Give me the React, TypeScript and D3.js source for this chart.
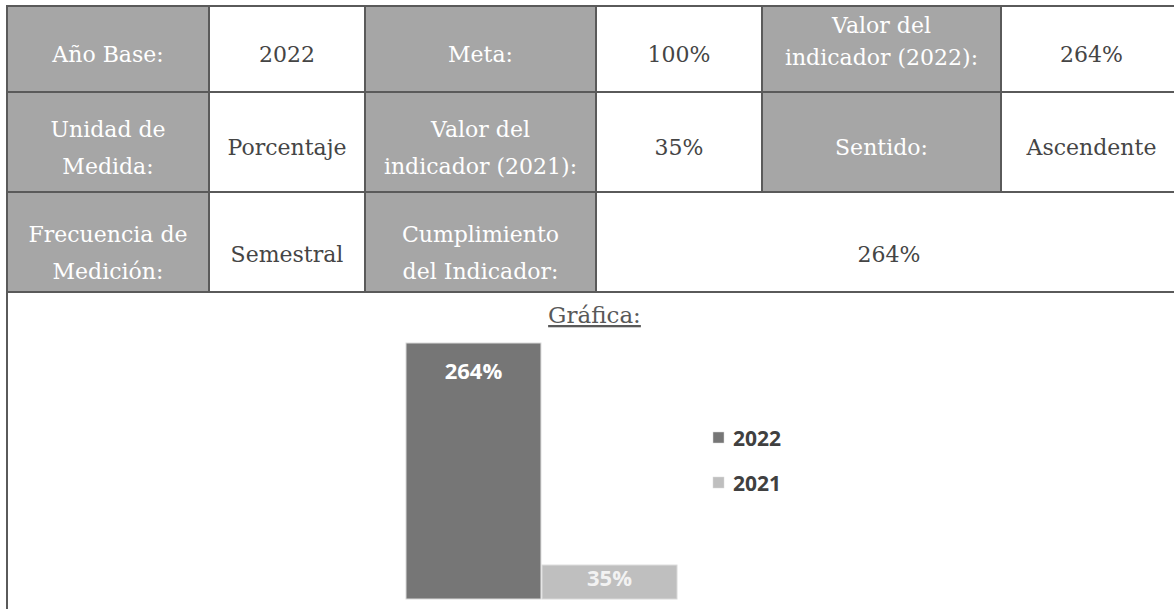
import React, { useEffect, useRef } from "react";
import * as d3 from "d3";

const width = 1174;
const height = 609;

// table text
const headerRow1 = ["Año Base:", "Meta:", "Valor del\nindicador (2022):"];
const valueRow1 = ["2022", "100%", "264%"];
const headerRow2 = ["Unidad de\nMedida:", "Valor del\nindicador (2021):", "Sentido:"];
const valueRow2 = ["Porcentaje", "35%", "Ascendente"];
const headerRow3 = ["Frecuencia de\nMedición:", "Cumplimiento\ndel Indicador:"];
const valueRow3 = ["Semestral", "264%"];
const chartTitle = "Gráfica:";

// chart data
const seriesNames = ["2022", "2021"];
const seriesValues = [264, 35];
const valueLabels = ["264%", "35%"];

// layout
const colX = [7, 209, 365, 596, 762, 1001, 1182];
const rowY = [6, 92, 192, 292];
const singleBase = [62, 155, 262];
const doubleBase = [
  [33, 65],
  [137, 174],
  [242, 279],
];
const headerFill = "#a6a6a6";
const borderColor = "#5a5a5a";
const serif = "'DejaVu Serif', serif";
const sans = "'Open Sans', 'Liberation Sans', sans-serif";

const App = () => {
  const svgRef = useRef<SVGSVGElement>(null);

  useEffect(() => {
    const svg = d3.select(svgRef.current);
    svg.selectAll("*").remove();

    // build table cells
    const cells: { text: string; header: boolean; row: number; c0: number; c1: number }[] = [];
    [
      [headerRow1, valueRow1],
      [headerRow2, valueRow2],
    ].forEach(([hs, vs], r) => {
      hs.forEach((h, i) => {
        cells.push({ text: h, header: true, row: r, c0: i * 2, c1: i * 2 + 1 });
        cells.push({ text: vs[i], header: false, row: r, c0: i * 2 + 1, c1: i * 2 + 2 });
      });
    });
    cells.push({ text: headerRow3[0], header: true, row: 2, c0: 0, c1: 1 });
    cells.push({ text: valueRow3[0], header: false, row: 2, c0: 1, c1: 2 });
    cells.push({ text: headerRow3[1], header: true, row: 2, c0: 2, c1: 3 });
    cells.push({ text: valueRow3[1], header: false, row: 2, c0: 3, c1: 6 });

    const table = svg.append("g");
    table
      .selectAll("rect")
      .data(cells)
      .enter()
      .append("rect")
      .attr("x", (d) => colX[d.c0])
      .attr("y", (d) => rowY[d.row])
      .attr("width", (d) => colX[d.c1] - colX[d.c0])
      .attr("height", (d) => rowY[d.row + 1] - rowY[d.row])
      .attr("fill", (d) => (d.header ? headerFill : "#ffffff"));

    cells.forEach((d) => {
      const lines = d.text.split("\n");
      const cx = (colX[d.c0] + colX[d.c1]) / 2;
      const bases = lines.length === 1 ? [singleBase[d.row]] : doubleBase[d.row];
      lines.forEach((line, i) => {
        table
          .append("text")
          .attr("x", cx)
          .attr("y", bases[i])
          .attr("text-anchor", "middle")
          .attr("font-family", serif)
          .attr("font-size", 22)
          .attr("fill", d.header ? "#ffffff" : "#454545")
          .text(line);
      });
    });

    // borders
    const bw = 2;
    rowY.forEach((y) => {
      table
        .append("line")
        .attr("x1", colX[0] - 1)
        .attr("x2", colX[6] + 1)
        .attr("y1", y)
        .attr("y2", y)
        .attr("stroke", borderColor)
        .attr("stroke-width", bw);
    });
    cells.forEach((d) => {
      [d.c0, d.c1].forEach((c) => {
        table
          .append("line")
          .attr("x1", colX[c])
          .attr("x2", colX[c])
          .attr("y1", rowY[d.row])
          .attr("y2", rowY[d.row + 1])
          .attr("stroke", borderColor)
          .attr("stroke-width", bw);
      });
    });
    // chart section side borders
    [colX[0], colX[6]].forEach((x) => {
      table
        .append("line")
        .attr("x1", x)
        .attr("x2", x)
        .attr("y1", rowY[3])
        .attr("y2", height)
        .attr("stroke", borderColor)
        .attr("stroke-width", bw);
    });

    // title
    const titleX = (colX[0] + colX[6]) / 2;
    svg
      .append("text")
      .attr("x", titleX)
      .attr("y", 323)
      .attr("text-anchor", "middle")
      .attr("font-family", serif)
      .attr("font-size", 23)
      .attr("fill", "#595959")
      .attr("text-decoration", "underline")
      .text(chartTitle);

    // bars
    const xScale = d3.scaleBand().domain(seriesNames).range([406, 677]).paddingInner(0.008);
    const yScale = d3.scaleLinear().domain([0, 264]).range([599, 343]);
    const colorScale = d3.scaleOrdinal<string>().domain(seriesNames).range(["#767676", "#bfbfbf"]);

    const bars = svg.append("g");
    bars
      .selectAll("rect")
      .data(seriesNames)
      .enter()
      .append("rect")
      .attr("x", (d) => xScale(d)!)
      .attr("y", (d, i) => yScale(seriesValues[i]))
      .attr("width", xScale.bandwidth())
      .attr("height", (d, i) => yScale(0) - yScale(seriesValues[i]))
      .attr("fill", (d) => colorScale(d))
      .attr("stroke", "#d9d9d9")
      .attr("stroke-width", 1);

    bars
      .selectAll("text")
      .data(seriesNames)
      .enter()
      .append("text")
      .attr("x", (d) => xScale(d)! + xScale.bandwidth() / 2)
      .attr("y", (d, i) => yScale(seriesValues[i]) + 36 - (i === 1 ? 15 : 0))
      .attr("text-anchor", "middle")
      .attr("font-family", sans)
      .attr("font-weight", "bold")
      .attr("font-size", 22)
      .attr("fill", (d, i) => (i === 0 ? "#ffffff" : "#f2f2f2"))
      .text((d, i) => valueLabels[i]);

    // legend
    const legend = svg.append("g").attr("transform", "translate(713, 432)");
    seriesNames.forEach((name, i) => {
      const g = legend.append("g").attr("transform", `translate(0, ${i * 45})`);
      g.append("rect")
        .attr("width", 11)
        .attr("height", 11)
        .attr("fill", colorScale(name))
        .attr("stroke", "#d9d9d9")
        .attr("stroke-width", 0.5);
      g.append("text")
        .attr("x", 20)
        .attr("y", 13.5)
        .attr("font-family", sans)
        .attr("font-weight", "bold")
        .attr("font-size", 21)
        .attr("fill", "#404040")
        .text(name);
    });
  }, []);

  return (
    <div style={{ position: "absolute", left: 0, top: 0 }}>
      <svg ref={svgRef} width={width} height={height} style={{ display: "block", background: "#ffffff" }}></svg>
    </div>
  );
};

export default App;
